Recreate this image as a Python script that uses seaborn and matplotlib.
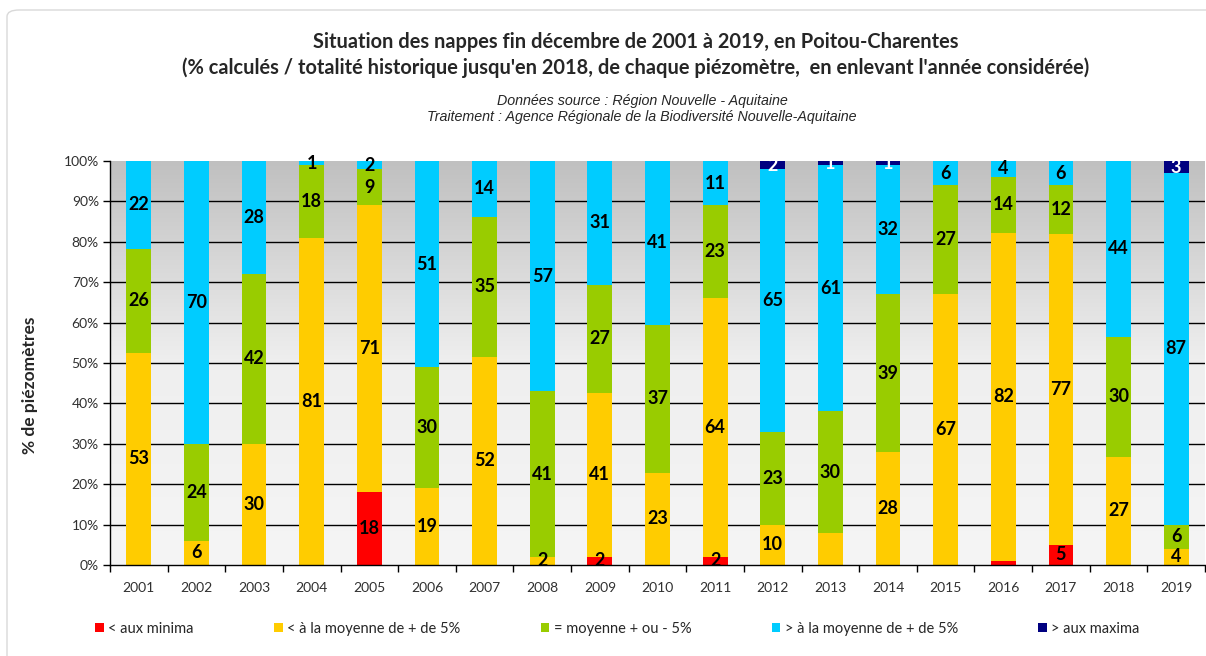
import numpy as np
import pandas as pd
import matplotlib
matplotlib.use("Agg")
import matplotlib.pyplot as plt
from matplotlib.patches import FancyBboxPatch, Patch
from matplotlib.colors import LinearSegmentedColormap
import seaborn as sns

years = [str(y) for y in range(2001, 2020)]
minima = [0, 0, 0, 0, 18, 0, 0, 0, 2, 0, 2, 0, 0, 0, 0, 1, 5, 0, 0]
below = [53, 6, 30, 81, 71, 19, 52, 2, 41, 23, 64, 10, 8, 28, 67, 82, 77, 27, 4]
mean = [26, 24, 42, 18, 9, 30, 35, 41, 27, 37, 23, 23, 30, 39, 27, 14, 12, 30, 6]
above = [22, 70, 28, 1, 2, 51, 14, 57, 31, 41, 11, 65, 61, 32, 6, 4, 6, 44, 87]
maxima = [0, 0, 0, 0, 0, 0, 0, 0, 0, 0, 0, 2, 1, 1, 0, 0, 0, 0, 3]
series_names = ["< aux minima", "< à la moyenne de + de 5%", "= moyenne + ou - 5%",
                "> à la moyenne de + de 5%", "> aux maxima"]
colors = ["#FF0000", "#FFCC00", "#99CC00", "#00CCFF", "#000080"]
label_colors = ["black", "black", "black", "black", "white"]
hidden_labels = {("2013", 1), ("2016", 0)}
title1 = "Situation des nappes fin décembre de 2001 à 2019, en Poitou-Charentes"
title2 = "(% calculés / totalité historique jusqu'en 2018, de chaque piézomètre,  en enlevant l'année considérée)"
sub1 = "Données source : Région Nouvelle - Aquitaine"
sub2 = "Traitement : Agence Régionale de la Biodiversité Nouvelle-Aquitaine"
ylabel = "% de piézomètres"

sns.set_theme(style="white")
plt.rcParams['font.family'] = ['Lato', 'DejaVu Sans']

vals = np.array([minima, below, mean, above, maxima], dtype=float)
pct = vals / vals.sum(axis=0) * 100
cum = np.cumsum(pct, axis=0)

fig = plt.figure(figsize=(12.06, 6.56), dpi=100)
ax = fig.add_axes([110/1206, 1-565/656, 1095/1206, 404/656])

grad = np.linspace(0, 1, 256).reshape(-1, 1)
cm = LinearSegmentedColormap.from_list("bg", ["#F5F5F5", "#EFEFEF", "#C0C0C0"])
ax.imshow(grad, aspect="auto", cmap=cm, extent=[-0.5, len(years)-0.5, 0, 100],
          origin="lower", zorder=0)

for y in range(10, 100, 10):
    ax.axhline(y, color="black", lw=1, zorder=1)

for i in range(len(series_names)-1, -1, -1):
    df = pd.DataFrame({"year": years, "v": cum[i]})
    sns.barplot(data=df, x="year", y="v", order=years, color=colors[i], width=0.43,
                saturation=1, ax=ax, zorder=2, linewidth=0)

for i in range(len(series_names)):
    for j, yr in enumerate(years):
        if vals[i, j] <= 0 or (yr, i) in hidden_labels:
            continue
        yc = cum[i, j] - pct[i, j] / 2
        ax.text(j, yc, f"{int(vals[i, j])}", ha="center", va="center", fontsize=13,
                fontweight="bold", color=label_colors[i], zorder=5)

ax.set_xlim(-0.5, len(years)-0.5)
ax.set_ylim(0, 100)
ax.set_yticks(range(0, 101, 10))
ax.set_yticklabels([f"{v}%" for v in range(0, 101, 10)], fontsize=10, color="#303030")
ax.set_xticks(range(len(years)))
ax.set_xticklabels(years, fontsize=10, color="#303030")
ax.set_xticks(np.arange(-0.5, len(years), 1), minor=True)
ax.tick_params(axis="x", which="major", length=0, pad=12)
ax.tick_params(axis="x", which="minor", length=5, width=1, color="black", direction="out", bottom=True)
ax.tick_params(axis="y", which="major", length=5, width=1, color="black", direction="out", left=True, pad=3)
ax.set_xlabel("")
ax.set_ylabel(ylabel, fontsize=12.5, fontweight="bold")
ax.yaxis.set_label_coords((38-110)/1095, (565-385)/404)
for s in ["top", "right"]:
    ax.spines[s].set_visible(False)
for s in ["left", "bottom"]:
    ax.spines[s].set_color("black")
    ax.spines[s].set_linewidth(1)

fig.text(636/1206, 1-42/656, title1, ha="center", va="center", fontsize=14.4, fontweight="bold")
fig.text(636/1206, 1-68/656, title2, ha="center", va="center", fontsize=14.4, fontweight="bold")
fig.text(642/1206, 1-101/656, sub1, ha="center", va="center", fontsize=10.3, style="italic",
         family=["Liberation Sans", "DejaVu Sans"])
fig.text(642/1206, 1-117/656, sub2, ha="center", va="center", fontsize=10.3, style="italic",
         family=["Liberation Sans", "DejaVu Sans"])

handles = [Patch(facecolor=c, edgecolor="none") for c in colors]
fig.legend(handles, series_names, loc="center left", bbox_to_anchor=(82/1206, 1-629/656),
           ncol=5, frameon=False, fontsize=10.5, handlelength=0.6, handleheight=0.6,
           handletextpad=0.3, columnspacing=5.5)

fig.patches.append(FancyBboxPatch((7/1206, -0.02), 1.1, 1-10/656+0.02, transform=fig.transFigure,
                                  boxstyle="round,pad=0,rounding_size=0.01", facecolor="none",
                                  edgecolor="#D9D9D9", lw=1, zorder=-1))

fig.savefig("out.png", dpi=100)
